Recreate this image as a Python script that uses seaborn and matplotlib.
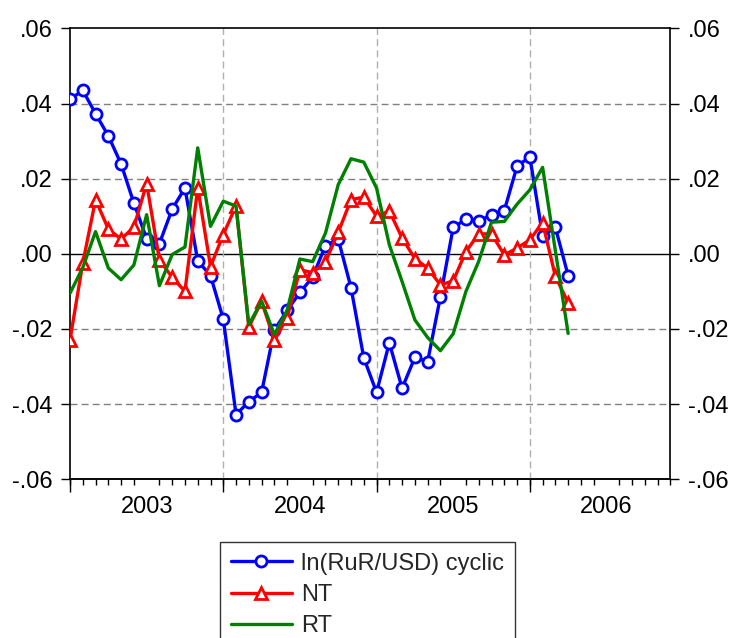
import numpy as np
import pandas as pd
import matplotlib
matplotlib.use("Agg")
import matplotlib.pyplot as plt
from matplotlib.ticker import FixedLocator, FuncFormatter
import seaborn as sns

# ---- data (monthly, 2003M01 .. 2006M04) ----
month_index = list(range(40))  # months since 2003M01
ln_rur_usd_cyclic = [
    0.0411, 0.0435, 0.0373, 0.0314, 0.0239, 0.0135, 0.0040, 0.0027, 0.0119, 0.0175,
    -0.0019, -0.0058, -0.0174, -0.0428, -0.0394, -0.0369, -0.0203, -0.0151, -0.0103, -0.0062,
    0.0022, 0.0039, -0.0090, -0.0277, -0.0369, -0.0237, -0.0358, -0.0276, -0.0287, -0.0114,
    0.0070, 0.0092, 0.0088, 0.0103, 0.0115, 0.0233, 0.0258, 0.0048, 0.0070, -0.0058,
]
nt = [
    -0.0229, -0.0025, 0.0144, 0.0066, 0.0039, 0.0071, 0.0187, -0.0016, -0.0063, -0.0100,
    0.0176, -0.0034, 0.0051, 0.0128, -0.0195, -0.0127, -0.0230, -0.0170, -0.0043, -0.0050,
    -0.0022, 0.0057, 0.0144, 0.0151, 0.0100, 0.0114, 0.0042, -0.0013, -0.0038, -0.0083,
    -0.0072, 0.0006, 0.0053, 0.0053, -0.0003, 0.0015, 0.0037, 0.0083, -0.0060, -0.0130,
]
rt = [
    -0.0105, -0.0037, 0.0059, -0.0038, -0.0069, -0.0030, 0.0104, -0.0085, -0.0002, 0.0018,
    0.0282, 0.0073, 0.0140, 0.0127, -0.0189, -0.0126, -0.0215, -0.0150, -0.0014, -0.0021,
    0.0055, 0.0184, 0.0253, 0.0244, 0.0175, 0.0024, -0.0074, -0.0176, -0.0223, -0.0258,
    -0.0213, -0.0100, -0.0020, 0.0084, 0.0086, 0.0132, 0.0170, 0.0230, 0.0008, -0.0212,
]
series_labels = ["ln(RuR/USD) cyclic", "NT", "RT"]
year_labels = ["2003", "2004", "2005", "2006"]
year_start_months = [0, 12, 24, 36]
year_center_months = [6, 18, 30, 42]
y_ticks = [-0.06, -0.04, -0.02, 0.00, 0.02, 0.04, 0.06]

df = pd.DataFrame({"month": month_index, "fx": ln_rur_usd_cyclic, "nt": nt, "rt": rt})

sns.set_theme(style="white")
plt.rcParams["font.family"] = ["Liberation Sans", "DejaVu Sans"]

FS = 17

fig = plt.figure(figsize=(7.33, 6.38), dpi=100)
ax = fig.add_axes([0.0955, 0.249, 0.819, 0.7065])

sns.lineplot(data=df, x="month", y="fx", ax=ax, color="#0000ff", lw=2.4,
             marker="o", markersize=8, markeredgewidth=2.0,
             markerfacecolor="white", markeredgecolor="#0000ff",
             label=series_labels[0], zorder=3)
sns.lineplot(data=df, x="month", y="nt", ax=ax, color="#ff0000", lw=2.4,
             marker="^", markersize=8, markeredgewidth=2.0,
             markerfacecolor="white", markeredgecolor="#ff0000",
             label=series_labels[1], zorder=4)
sns.lineplot(data=df, x="month", y="rt", ax=ax, color="#008000", lw=2.4,
             label=series_labels[2], zorder=5)

ax.set_xlim(0, 47)
ax.set_ylim(-0.06, 0.06)
ax.set_xlabel("")
ax.set_ylabel("")

# grid
for v in [-0.04, -0.02, 0.02, 0.04]:
    ax.axhline(v, color="#808080", lw=1.0, ls=(0, (5, 3)), zorder=1)
ax.axhline(0.0, color="black", lw=1.0, zorder=1)
for m in year_start_months[1:]:
    ax.axvline(m, color="#b0b0b0", lw=1.0, ls=(0, (5, 3)), zorder=1)

for s in ax.spines.values():
    s.set_color("black")
    s.set_linewidth(1.2)

# y axis ticks both sides
fmt = FuncFormatter(lambda v, p: ("-" if v < -1e-9 else "") + ("%.2f" % abs(v))[1:])
ax.yaxis.set_major_locator(FixedLocator(y_ticks))
ax.yaxis.set_major_formatter(fmt)
ax.tick_params(axis="y", which="major", direction="out", length=6.5, width=1.0,
               pad=6, labelsize=FS, left=True, right=True, labelleft=True,
               labelright=True, colors="black")

# x axis: labels at year centres, minor month ticks, long year-boundary ticks
ax.xaxis.set_major_locator(FixedLocator(year_center_months))
ax.set_xticklabels(year_labels)
ax.xaxis.set_minor_locator(FixedLocator(list(range(0, 48))))
ax.tick_params(axis="x", which="major", length=0, pad=12, labelsize=FS, colors="black")
ax.tick_params(axis="x", which="minor", direction="out", length=4.5, width=1.0,
               bottom=True, colors="black")
sec = ax.secondary_xaxis("bottom")
sec.set_xticks(year_start_months)
sec.set_xticklabels([])
sec.tick_params(axis="x", direction="out", length=9, width=1.0, colors="black")
sec.spines["bottom"].set_linewidth(1.2)

handles, labels = ax.get_legend_handles_labels()
ax.get_legend().remove()
leg = fig.legend(handles, labels, loc="upper left", bbox_to_anchor=(0.300, 0.1505),
                 bbox_transform=fig.transFigure, fontsize=FS, frameon=True,
                 fancybox=False, edgecolor="#333333", framealpha=1,
                 handlelength=2.6, handletextpad=0.4, borderpad=0.45,
                 labelspacing=0.4, borderaxespad=0)
leg.get_frame().set_linewidth(1.0)

fig.savefig("out.png", dpi=100)
